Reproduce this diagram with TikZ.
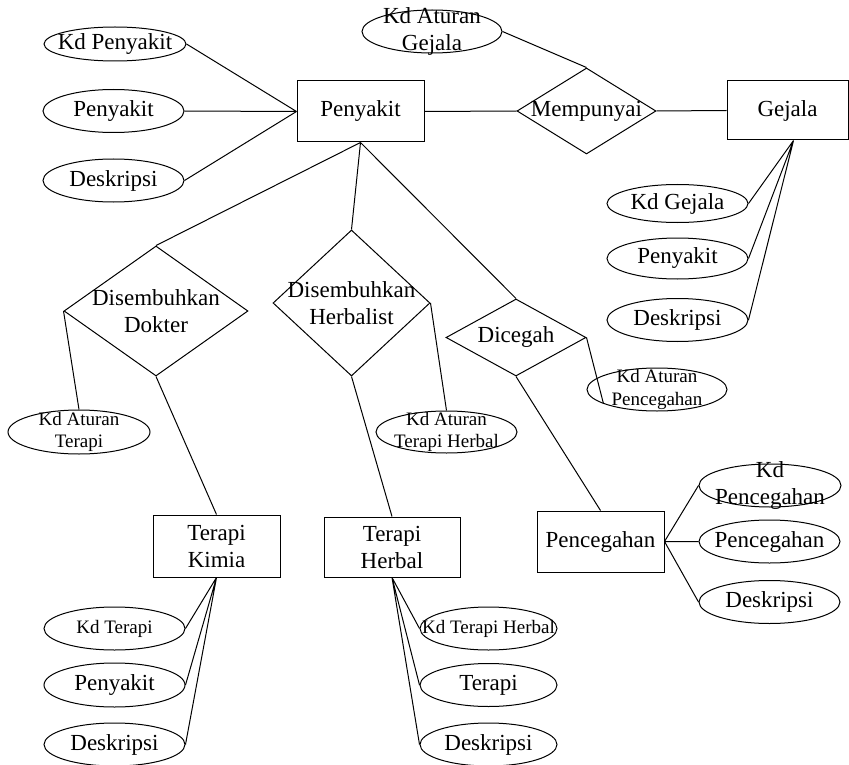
\documentclass[tikz,border=0pt]{standalone}
\usepackage{fontspec}
\setmainfont{Liberation Serif}
\usetikzlibrary{shapes.geometric}

\begin{document}
\begin{tikzpicture}[
  x=1pt,y=-1pt,line width=1pt,
  ent/.style={draw,rectangle,minimum width=127pt,minimum height=61pt,inner sep=0pt,
              align=center,font=\fontsize{23}{27}\selectfont},
  rel/.style={draw,diamond,inner xsep=-40pt,inner ysep=-20pt,
              align=center,font=\fontsize{23}{27}\selectfont},
  attr/.style={draw,ellipse,minimum width=141pt,minimum height=43pt,inner xsep=-20pt,inner ysep=-10pt,
               align=center,font=\fontsize{23}{27}\selectfont},
  attrk/.style={attr,font=\fontsize{19}{22.5}\selectfont}
]
  \useasboundingbox (0,0) rectangle (849,765);

  % entitas
  \node[ent] (penyakit) at (360.5,111.5) {Penyakit};
  \node[ent,minimum width=121pt,minimum height=59pt] (gejala) at (787.5,110.5) {Gejala};
  \node[ent,minimum height=62pt] (tkimia) at (216.5,546) {Terapi\\Kimia};
  \node[ent,minimum width=136pt,minimum height=60pt] (therbal) at (392,547) {Terapi\\Herbal};
  \node[ent] (pcg) at (600.5,541.5) {Pencegahan};

  % relasi
  \node[rel,minimum width=139pt,minimum height=86pt] (punya) at (586.5,111) {Mempunyai};
  \node[rel,minimum width=184pt,minimum height=130pt] (sdokter) at (156,311) {Disembuhkan\\Dokter};
  \node[rel,minimum width=157pt,minimum height=146pt] (sherbal) at (351.5,303) {Disembuhkan\\Herbalist};
  \node[rel,minimum width=140pt,minimum height=77pt] (cegah) at (516,337.5) {Dicegah};

  % atribut penyakit
  \node[attr,minimum width=142pt,minimum height=34pt] (kdpenyakit) at (115,44) {Kd Penyakit};
  \node[attr] (npenyakit) at (113.5,111) {Penyakit};
  \node[attr] (dpenyakit) at (113.5,180.5) {Deskripsi};

  % atribut gejala
  \node[attr,minimum width=140pt] (kdaturang) at (432,31.5) {Kd Aturan\\Gejala};
  \node[attr,minimum height=38pt] (kdgejala) at (677.5,203.5) {Kd Gejala};
  \node[attr,minimum height=41pt] (pgejala) at (677.5,258.5) {Penyakit};
  \node[attr] (dgejala) at (677.5,320) {Deskripsi};

  % atribut relasi
  \node[attrk,minimum width=142pt,minimum height=44pt] (kdaturant) at (79,432) {Kd Aturan\\Terapi};
  \node[attrk,minimum height=42pt] (kdaturanh) at (446.5,432) {Kd Aturan\\Terapi Herbal};
  \node[attrk,minimum width=140pt] (kdaturanp) at (657,389.5) {Kd Aturan\\Pencegahan};

  % atribut terapi kimia
  \node[attrk] (kdterapi) at (114.5,628.5) {Kd Terapi};
  \node[attr,minimum height=44pt] (pterapi) at (114.5,685) {Penyakit};
  \node[attr] (dterapi) at (114.5,744.5) {Deskripsi};

  % atribut terapi herbal
  \node[attrk,minimum width=137pt] (kdherbal) at (488.5,628.5) {Kd Terapi Herbal};
  \node[attr,minimum width=137pt] (therapi) at (488.5,685) {Terapi};
  \node[attr,minimum width=137pt] (dherbal) at (488.5,744.5) {Deskripsi};

  % atribut pencegahan
  \node[attr,minimum width=142pt] (kdpcg) at (770,485.5) {Kd\\Pencegahan};
  \node[attr] (npcg) at (769.5,541.5) {Pencegahan};
  \node[attr] (dpcg) at (769.5,602) {Deskripsi};

  % garis
  \draw (kdpenyakit.east) -- (penyakit.west) (npenyakit.east) -- (penyakit.west)
        (dpenyakit.east) -- (penyakit.west);
  \draw (penyakit.east) -- (punya.west) (punya.east) -- (gejala.west);
  \draw (kdaturang.east) -- (punya.north);
  \draw ([xshift=6pt]gejala.south) -- (kdgejala.east)
        ([xshift=6pt]gejala.south) -- (pgejala.east)
        ([xshift=6pt]gejala.south) -- (dgejala.east);
  \draw (penyakit.south) -- (sdokter.north) (penyakit.south) -- (sherbal.north)
        (penyakit.south) -- (cegah.north);
  \draw (sdokter.west) -- (kdaturant.north) (sdokter.south) -- (tkimia.north);
  \draw (sherbal.east) -- (kdaturanh.north) (sherbal.south) -- (therbal.north);
  \draw (cegah.east) -- (kdaturanp.195) (cegah.south) -- (pcg.north);
  \draw (tkimia.south) -- (kdterapi.east) (tkimia.south) -- (pterapi.east)
        (tkimia.south) -- (dterapi.east);
  \draw (therbal.south) -- (kdherbal.west) (therbal.south) -- (therapi.west)
        (therbal.south) -- (dherbal.west);
  \draw (pcg.east) -- (kdpcg.west) (pcg.east) -- (npcg.west) (pcg.east) -- (dpcg.west);
\end{tikzpicture}
\end{document}
